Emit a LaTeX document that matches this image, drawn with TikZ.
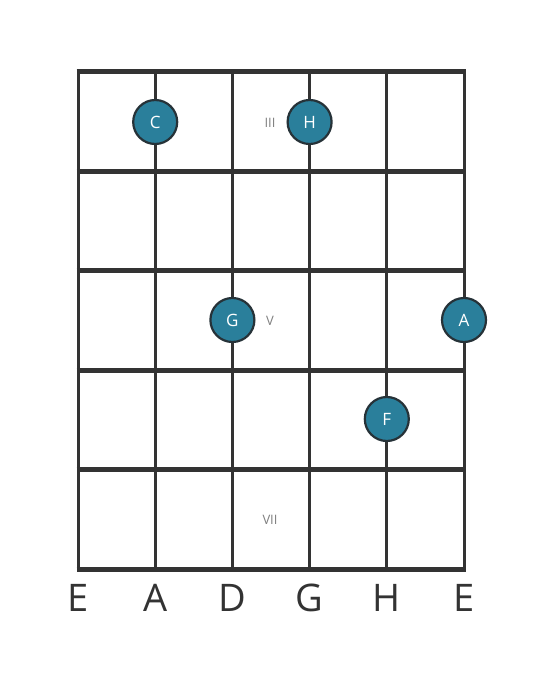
\documentclass[tikz,border=0pt]{standalone}
\usepackage{fontspec}
\setmainfont{Open Sans}
\usepackage{tikz}
\usetikzlibrary{positioning}
\definecolor{fretline}{HTML}{333333}
\definecolor{dotfill}{HTML}{2A7F9B}
\definecolor{dotrim}{HTML}{263238}
\definecolor{numgrey}{HTML}{808080}

\begin{document}
\begin{tikzpicture}[x=1pt,y=-1pt,
        note/.style={circle,fill=dotfill,draw=dotrim,line width=2.2pt,minimum size=44pt,inner sep=0pt,text=white,font=\fontsize{17}{17}\selectfont},
        fretnum/.style={text=numgrey,font=\fontsize{13}{13}\selectfont},
        strname/.style={text=fretline,font=\fontsize{38}{38}\selectfont}]
                                \useasboundingbox[fill=white] (0,0) rectangle (559,682);
                                % strings
                                \foreach \x in {78,155.2,232.4,309.6,386.8,464}
                                    \draw[fretline,line width=3pt] (\x,72) -- (\x,569);
                                % frets
                                \foreach \y in {72,171.4,270.8,370.2,469.6,569}
                                    \draw[fretline,line width=5pt] (76.5,\y) -- (465.5,\y);
                                \node[fretnum] (n3) at (270,123) {III};
                                \node[fretnum] (n5) at (270,321) {V};
                                \node[fretnum] (n7) at (270,520) {VII};

                                \node[note] (c) at (155.2,122) {C};
                                \node[note] (h) at (309.6,122) {H};
                                \node[note] (g) at (232.4,320) {G};
                                \node[note] (a) at (464,320) {A};
                                \node[note] (f) at (386.8,419) {F};

                                \node[strname] (s1) at (78,598) {E};
                                \node[strname] (s2) at (155.2,598) {A};
                                \node[strname] (s3) at (232.4,598) {D};
                                \node[strname] (s4) at (309.6,598) {G};
                                \node[strname] (s5) at (386.8,598) {H};
                                \node[strname] (s6) at (464,598) {E};
                            \end{tikzpicture}
\end{document}
